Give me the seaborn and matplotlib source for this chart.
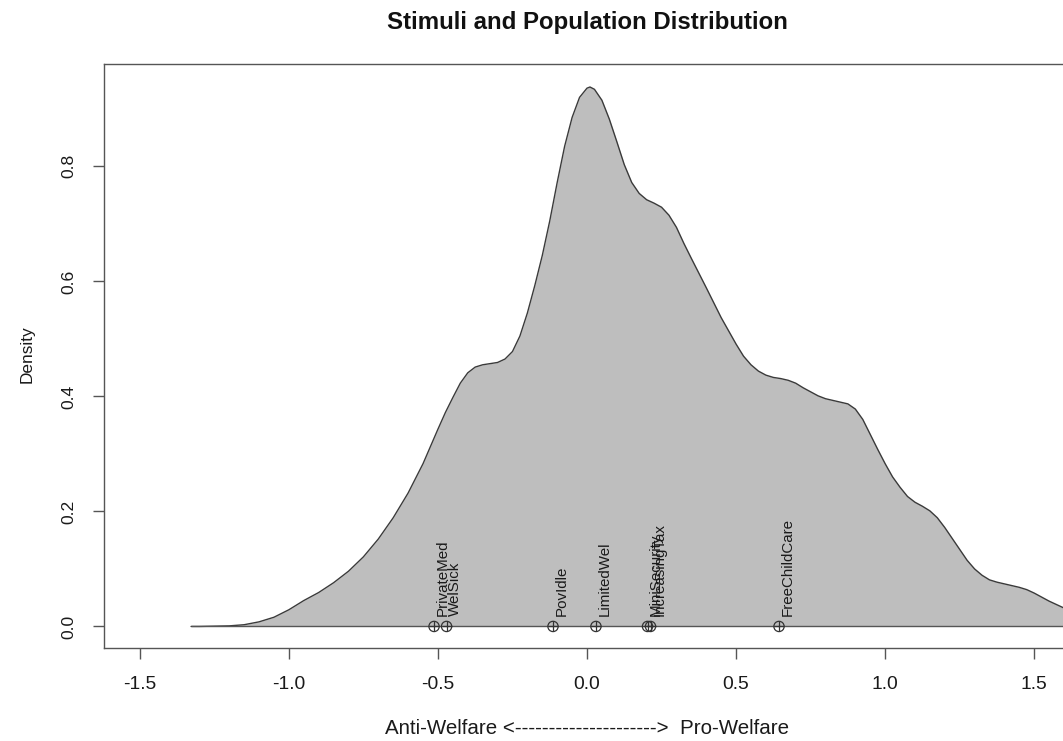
import matplotlib
matplotlib.use("Agg")
import matplotlib.pyplot as plt
import seaborn as sns

# ---- data ----
density_x = [-1.328, -1.30, -1.25, -1.20, -1.15, -1.10, -1.05, -1.00, -0.95, -0.90,
             -0.85, -0.80, -0.75, -0.70, -0.65, -0.60, -0.55, -0.50, -0.475, -0.45,
             -0.425, -0.40, -0.375, -0.35, -0.325, -0.30, -0.275, -0.25, -0.225, -0.20,
             -0.175, -0.15, -0.125, -0.10, -0.075, -0.05, -0.025, 0.00, 0.01, 0.025,
             0.05, 0.075, 0.10, 0.125, 0.15, 0.175, 0.20, 0.225, 0.25, 0.275,
             0.30, 0.325, 0.35, 0.40, 0.45, 0.50, 0.525, 0.55, 0.575, 0.60,
             0.625, 0.65, 0.675, 0.70, 0.725, 0.75, 0.775, 0.80, 0.825, 0.85,
             0.875, 0.90, 0.925, 0.95, 0.975, 1.00, 1.025, 1.05, 1.075, 1.10,
             1.125, 1.15, 1.175, 1.20, 1.225, 1.25, 1.275, 1.30, 1.325, 1.35,
             1.375, 1.40, 1.425, 1.45, 1.475, 1.50, 1.525, 1.55, 1.575, 1.60,
             1.625, 1.65]
density_y = [0.000, 0.000, 0.0005, 0.001, 0.003, 0.008, 0.016, 0.029, 0.045, 0.059,
             0.076, 0.096, 0.121, 0.152, 0.189, 0.232, 0.283, 0.343, 0.372, 0.398,
             0.423, 0.441, 0.451, 0.455, 0.457, 0.459, 0.465, 0.478, 0.505, 0.545,
             0.593, 0.645, 0.705, 0.772, 0.835, 0.885, 0.920, 0.936, 0.938, 0.934,
             0.915, 0.882, 0.843, 0.803, 0.772, 0.753, 0.742, 0.736, 0.729, 0.715,
             0.694, 0.666, 0.640, 0.589, 0.537, 0.491, 0.470, 0.455, 0.444, 0.437,
             0.433, 0.431, 0.428, 0.423, 0.415, 0.408, 0.401, 0.396, 0.393, 0.390,
             0.387, 0.378, 0.360, 0.334, 0.308, 0.283, 0.260, 0.242, 0.226, 0.216,
             0.209, 0.201, 0.189, 0.172, 0.153, 0.134, 0.115, 0.100, 0.089, 0.081,
             0.077, 0.074, 0.071, 0.068, 0.064, 0.058, 0.051, 0.044, 0.038, 0.032,
             0.027, 0.022]

stimuli_names = ["PrivateMed", "WelSick", "PovIdle", "LimitedWel",
                 "MiniSecurity", "IncreasingTax", "FreeChildCare"]
stimuli_pos = [-0.513, -0.471, -0.114, 0.030, 0.203, 0.213, 0.644]

x_ticks = [-1.5, -1.0, -0.5, 0.0, 0.5, 1.0, 1.5]
y_ticks = [0.0, 0.2, 0.4, 0.6, 0.8]

title = "Stimuli and Population Distribution"
x_label = "Anti-Welfare <" + "-" * 21 + ">  Pro-Welfare"
y_label = "Density"

# ---- style ----
sns.set_theme(style="white")
plt.rcParams["font.family"] = ["Liberation Sans", "DejaVu Sans"]
plt.rcParams["axes.unicode_minus"] = False

W, H = 1063, 741
fig = plt.figure(figsize=(W / 100, H / 100), dpi=100)
left, right, top, bottom = 104, 1070, 64, 648.3
ax = fig.add_axes([left / W, 1 - bottom / H, (right - left) / W, (bottom - top) / H])

ax.fill_between(density_x, density_y, 0, color="#BEBEBE", linewidth=0, zorder=1)
sns.lineplot(x=density_x, y=density_y, ax=ax, color="#3a3a3a", linewidth=1.0,
             sort=False, estimator=None, zorder=2)
ax.hlines(0, density_x[0], density_x[-1], color="#555555", linewidth=1.0, zorder=2)

zeros = [0.0] * len(stimuli_pos)
ax.scatter(stimuli_pos, zeros, s=55, marker="o", facecolors="none",
           edgecolors="#333333", linewidths=0.9, zorder=3)
sns.scatterplot(x=stimuli_pos, y=zeros, ax=ax, marker="+", s=55,
                color="#333333", linewidth=0.9, zorder=3)

for name, pos in zip(stimuli_names, stimuli_pos):
    ax.text(pos + 0.029, 0.018, name, rotation=90, ha="center", va="bottom",
            fontsize=10.9, color="#1a1a1a", zorder=4)

ax.set_xlim(-1.62, 1.62)
ax.set_ylim(-0.038, 0.978)
ax.set_xticks(x_ticks)
ax.set_yticks(y_ticks)
ax.set_xticklabels([f"{v:.1f}" for v in x_ticks])
ax.set_yticklabels([f"{v:.1f}" for v in y_ticks])
ax.tick_params(direction="out", length=8, width=1, color="#555555",
               labelcolor="#1a1a1a", pad=12, bottom=True, left=True)
ax.tick_params(axis="x", labelsize=13.9)
ax.tick_params(axis="y", labelsize=12.6)
for lbl in ax.get_yticklabels():
    lbl.set_rotation(90)
    lbl.set_va("center")
    lbl.set_ha("right")
for s in ax.spines.values():
    s.set_visible(True)
    s.set_color("#555555")
    s.set_linewidth(1.0)
ax.set_xlabel("")
ax.set_ylabel("")
ax.grid(False)

fig.text(587 / W, 1 - 22 / H, title, ha="center", va="center",
         fontsize=17.3, fontweight="bold", color="#111111")
fig.text(587 / W, 1 - 728 / H, x_label, ha="center", va="center",
         fontsize=14.8, color="#1a1a1a")
fig.text(27 / W, 1 - 354 / H, y_label, ha="center", va="center",
         rotation=90, fontsize=12.4, color="#1a1a1a")

fig.savefig("out.png", dpi=100, facecolor="white")
